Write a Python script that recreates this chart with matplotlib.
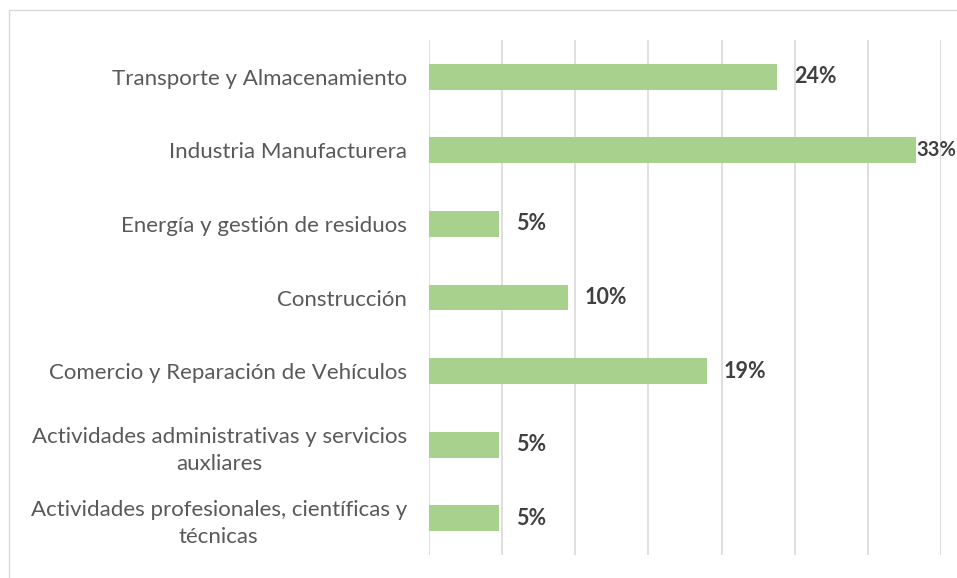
import numpy as np
import matplotlib.pyplot as plt
from matplotlib.patches import Rectangle

# Sector share of companies (%), top to bottom as in the chart
categories = [
    "Transporte y Almacenamiento",
    "Industria Manufacturera",
    "Energía y gestión de residuos",
    "Construcción",
    "Comercio y Reparación de Vehículos",
    "Actividades administrativas y servicios\nauxliares",
    "Actividades profesionales, científicas y\ntécnicas",
]
shares = [23.8, 33.3, 4.8, 9.5, 19.0, 4.8, 4.8]
labels = ["24%", "33%", "5%", "10%", "19%", "5%", "5%"]

BAR_COLOR = "#A9D18E"
GRID_COLOR = "#D9D9D9"
TEXT_COLOR = "#595959"
LABEL_COLOR = "#404040"

plt.rcParams["font.family"] = ["Lato", "DejaVu Sans"]

fig = plt.figure(figsize=(9.57, 5.78), dpi=100)
W, H = 957, 578
ax = fig.add_axes([429 / W, 1 - 555 / H, (941 - 429) / W, (555 - 40) / H])

# light chart frame
fig.patches.append(Rectangle((9 / W, -0.05), 1.1, 1 - 10 / H + 0.05,
                             transform=fig.transFigure, fill=False,
                             edgecolor="#D9D9D9", linewidth=1.0))

y = np.arange(len(categories))
ax.barh(y, shares, height=0.35, color=BAR_COLOR, zorder=3)

ax.set_xlim(0, 35)
ax.set_ylim(len(categories) - 0.5, -0.5)
ax.set_xticks(np.arange(0, 36, 5))
ax.xaxis.grid(True, color=GRID_COLOR, linewidth=1.2, zorder=0)
ax.tick_params(axis="x", length=0, labelbottom=False)
ax.tick_params(axis="y", length=0, pad=16)
for s in ax.spines.values():
    s.set_visible(False)

ax.set_yticks(y)
ax.set_yticklabels(categories, fontsize=16, color=TEXT_COLOR,
                   multialignment="center", linespacing=1.45)

for yi, val, lab in zip(y, shares, labels):
    # the longest bar has no room left, so its label hugs the bar end
    near_edge = val > 30
    ax.annotate(lab, (val, yi), xytext=(0 if near_edge else 12, 0),
                textcoords="offset points", va="center", ha="left",
                fontsize=14.5 if near_edge else 15.5, fontweight="bold",
                color=LABEL_COLOR, annotation_clip=False)

fig.savefig("out.png", dpi=100)
